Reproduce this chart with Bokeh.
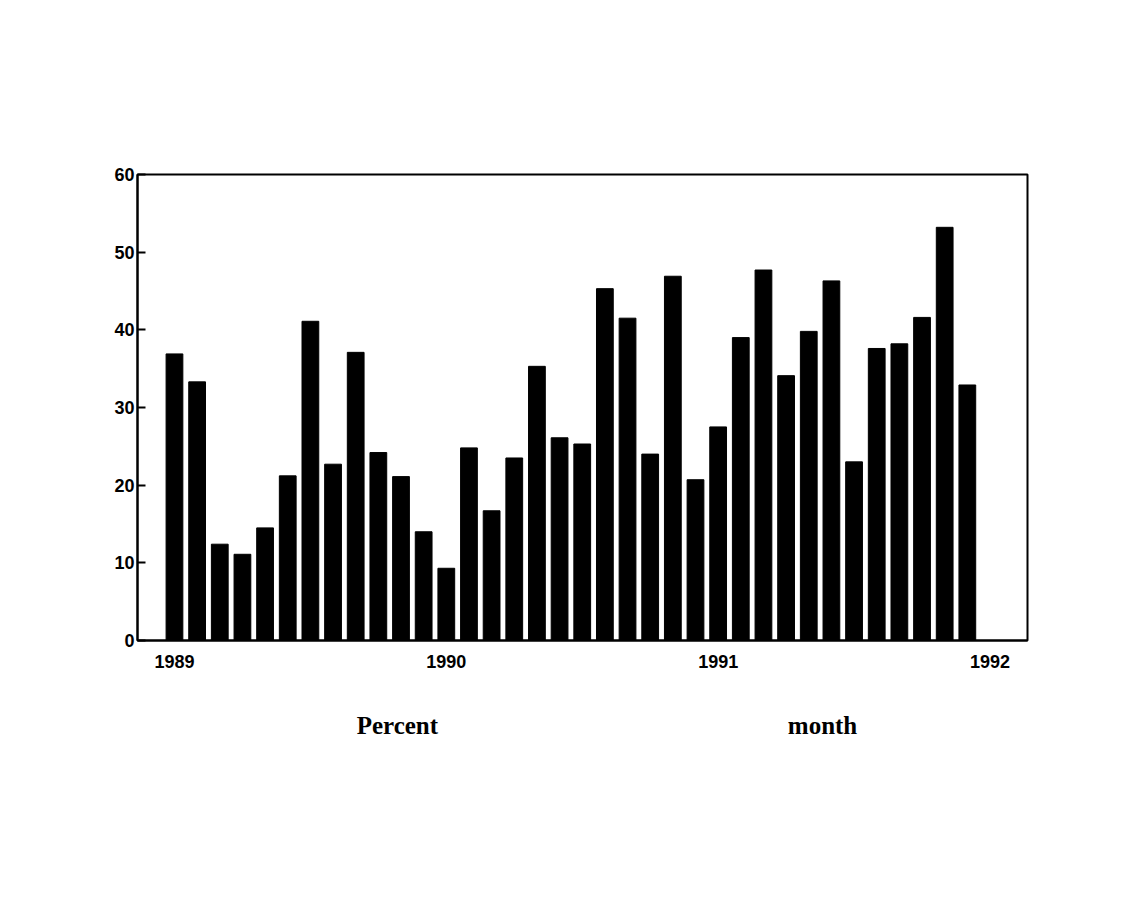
from bokeh.plotting import figure
from bokeh.models import Range1d, FixedTicker, Label, ColumnDataSource
from bokeh.layouts import column
from bokeh.embed import file_html
from bokeh.resources import INLINE

# Monthly percent values, Jan 1989 - Dec 1991
years = [1989, 1990, 1991]
values_1989 = [36.9, 33.3, 12.4, 11.1, 14.5, 21.2, 41.1, 22.7, 37.1, 24.2, 21.1, 14.0]
values_1990 = [9.3, 24.8, 16.7, 23.5, 35.3, 26.1, 25.3, 45.3, 41.5, 24.0, 46.9, 20.7]
values_1991 = [27.5, 39.0, 47.7, 34.1, 39.8, 46.3, 23.0, 37.6, 38.2, 41.6, 53.2, 32.9]
x_ticks = [1989, 1990, 1991, 1992]
x_tick_labels = ["1989", "1990", "1991", "1992"]
y_ticks = [0, 10, 20, 30, 40, 50, 60]
bottom_labels = ["Percent", "month"]
bottom_label_x = [1989.82, 1991.384]

values = values_1989 + values_1990 + values_1991
months = [y + m / 12.0 for y in years for m in range(12)]
src = ColumnDataSource(dict(x=months, top=values))

xr = Range1d(1988.864, 1992.138)

p = figure(width=1126, height=700, output_backend="svg", toolbar_location=None,
           x_range=xr, y_range=Range1d(0, 60))
p.min_border_left = 137
p.min_border_right = 99
p.min_border_top = 174
p.min_border_bottom = 60
p.background_fill_color = "white"
p.border_fill_color = "white"
p.outline_line_color = "black"
p.outline_line_width = 2
p.xgrid.visible = False
p.ygrid.visible = False

p.vbar(x="x", top="top", bottom=0, width=0.74 / 12, source=src,
       fill_color="black", line_color="black")

xa = p.xaxis[0]
xa.ticker = FixedTicker(ticks=x_ticks)
xa.major_label_overrides = {t: s for t, s in zip(x_ticks, x_tick_labels)}
xa.major_tick_line_color = None
xa.minor_tick_line_color = None
xa.axis_line_color = "black"
xa.axis_line_width = 2
xa.major_label_standoff = 8
xa.major_label_text_font = "Liberation Sans"
xa.major_label_text_font_style = "bold"
xa.major_label_text_font_size = "18px"
xa.major_label_text_color = "black"

ya = p.yaxis[0]
ya.ticker = FixedTicker(ticks=y_ticks, num_minor_ticks=4)
ya.axis_line_color = "black"
ya.axis_line_width = 2
ya.major_tick_in = 8
ya.major_tick_out = 0
ya.minor_tick_in = 4
ya.minor_tick_out = 0
ya.major_tick_line_width = 2
ya.major_tick_line_color = "black"
ya.minor_tick_line_color = "black"
ya.major_label_standoff = 3
ya.major_label_text_font = "Liberation Sans"
ya.major_label_text_font_style = "bold"
ya.major_label_text_font_size = "18px"
ya.major_label_text_color = "black"

# second strip holding the two captions beneath the chart
q = figure(width=1126, height=100, output_backend="svg", toolbar_location=None,
           x_range=xr, y_range=Range1d(0, 1))
q.min_border_left = 137
q.min_border_right = 99
q.min_border_top = 0
q.min_border_bottom = 0
q.axis.visible = False
q.grid.visible = False
q.outline_line_color = None
q.background_fill_color = "white"
q.border_fill_color = "white"
for txt, xpos in zip(bottom_labels, bottom_label_x):
    q.add_layout(Label(x=xpos, y=0.75, text=txt, text_align="center",
                       text_baseline="middle", text_font="Liberation Serif",
                       text_font_style="bold", text_font_size="25px",
                       text_color="black"))

layout = column(p, q, spacing=0)
open("out.html", "w").write(file_html(layout, INLINE))
